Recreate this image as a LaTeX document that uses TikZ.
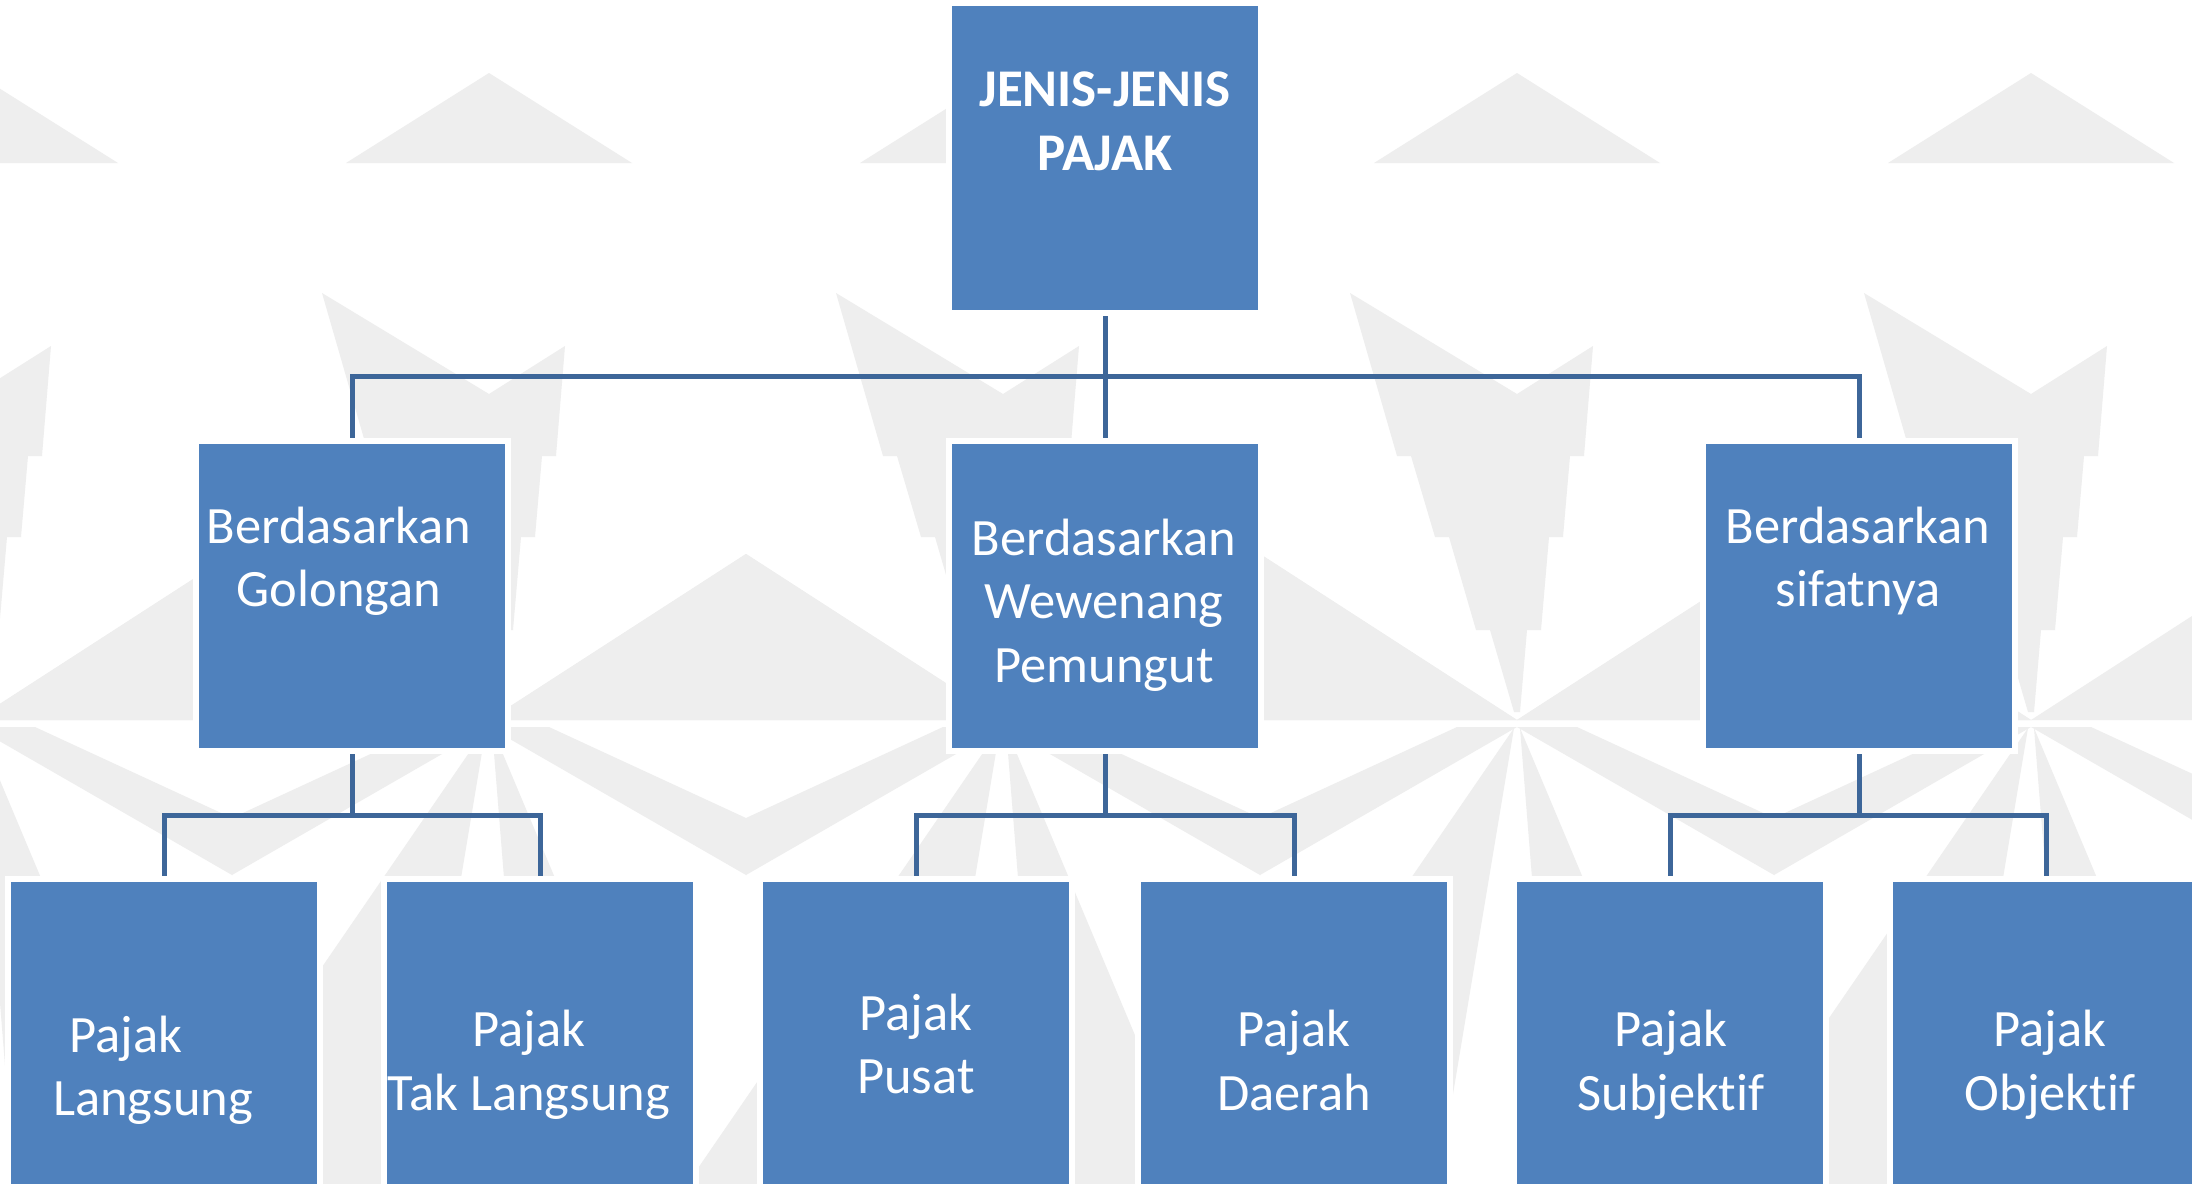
\documentclass[tikz,border=0pt]{standalone}
\usepackage{fontspec}
\setmainfont{Carlito}[Ligatures={NoCommon}]
\definecolor{boxblue}{HTML}{4F81BD}
\definecolor{connblue}{HTML}{3D6699}
\definecolor{patgray}{HTML}{EEEEEE}
\pgfdeclarelayer{bgpat}
\pgfdeclarelayer{conn}
\pgfsetlayers{bgpat,conn,main}
\begin{document}
\begin{tikzpicture}[x=1pt,y=-1pt,
  box/.style={rectangle, fill=boxblue, draw=white, line width=6pt,
    minimum width=312pt, minimum height=310pt, inner sep=0pt},
  lbl/.style={text=white, align=center, inner sep=0pt,
    font=\fontsize{52.5}{63.5}\selectfont},
  link/.style={draw=connblue, line width=5pt},
  pat/.style={fill=patgray}]
\useasboundingbox (0,0) rectangle (2192,1183);

\begin{pgfonlayer}{bgpat}
\fill[white] (0,0) rectangle (2192,1183);
\foreach \c in {-25,489,1003,1517,2031}{
  % top mountains
  \fill[pat] (\c-143,163) -- (\c,73) -- (\c+143,163) -- cycle;
  % upper lightning ray
  \fill[pat] (\c-167,293) -- (\c,394) -- (\c+76,346) -- (\c+67,456) -- (\c+53,456)
    -- (\c+46,537) -- (\c+32,537) -- (\c+24,630) -- (\c+10,630) -- (\c+3,712)
    -- (\c-3,712) -- (\c-27,630) -- (\c-41,630) -- (\c-68,537) -- (\c-82,537)
    -- (\c-106,456) -- (\c-120,456) -- cycle;
  % side wedges (upper)
  \fill[pat] (\c,720) -- (\c+257,554) -- (\c+514,720) -- cycle;
  \fill[pat] (\c,720) -- (\c-257,554) -- (\c-514,720) -- cycle;
  % side bands (lower)
  \fill[pat] (\c,727) -- (\c+257,875) -- (\c+257,818) -- (\c+60,727) -- cycle;
  \fill[pat] (\c,727) -- (\c-257,875) -- (\c-257,818) -- (\c-60,727) -- cycle;
  % lower rays
  \fill[pat] (\c-3,728) -- (\c-320,1190) -- (\c-80,1190) -- cycle;
  \fill[pat] (\c+3,728) -- (\c+40,1190) -- (\c+197,1190) -- cycle;
}
\end{pgfonlayer}

% boxes
\node[box] (top) at (1105,158) {};
\node[box] (m1) at (352,596) {};
\node[box] (m2) at (1105,596) {};
\node[box] (m3) at (1859,596) {};
\node[box] (b1) at (164,1034) {};
\node[box] (b2) at (540,1034) {};
\node[box] (b3) at (916,1034) {};
\node[box] (b4) at (1294,1034) {};
\node[box] (b5) at (1670,1034) {};
\node[box] (b6) at (2046,1034) {};

% junctions
\coordinate (j0) at (1105,376);
\coordinate (j1) at (352,815);
\coordinate (j2) at (1105,815);
\coordinate (j3) at (1859,815);

\begin{pgfonlayer}{conn}
\draw[link] (top.south) -- (m2.north);
\draw[link] (m1.north) |- (j0) -| (m3.north);
\draw[link] (m1.south) -- (j1);
\draw[link] (b1.north) |- (j1) -| (b2.north);
\draw[link] (m2.south) -- (j2);
\draw[link] (b3.north) |- (j2) -| (b4.north);
\draw[link] (m3.south) -- (j3);
\draw[link] (b5.north) |- (j3) -| (b6.north);
\end{pgfonlayer}

% labels
\node[lbl, font=\bfseries\fontsize{53}{64}\selectfont] (t0) at (1105,125.2) {\strut JENIS-JENIS\\\strut PAJAK};
\node[lbl] (tm1) at (339,562.3) {\strut Berdasarkan\\\strut Golongan};
\node[lbl] (tm2) at (1104,605.8) {\strut Berdasarkan\\\strut Wewenang\\\strut Pemungut};
\node[lbl] (tm3) at (1858,562.3) {\strut Berdasarkan\\\strut sifatnya};
\node[lbl] (tb1) at (153,1071.3) {\strut Pajak\hspace*{54pt}\\\strut Langsung};
\node[lbl] (tb2) at (529,1065.7) {\strut Pajak\\\strut Tak Langsung};
\node[lbl] (tb3) at (916,1049.5) {\strut Pajak\\\strut Pusat};
\node[lbl] (tb4) at (1294,1065.7) {\strut Pajak\\\strut Daerah};
\node[lbl] (tb5) at (1671,1065.7) {\strut Pajak\\\strut Subjektif};
\node[lbl] (tb6) at (2050,1065.7) {\strut Pajak\\\strut Objektif};
\end{tikzpicture}
\end{document}
